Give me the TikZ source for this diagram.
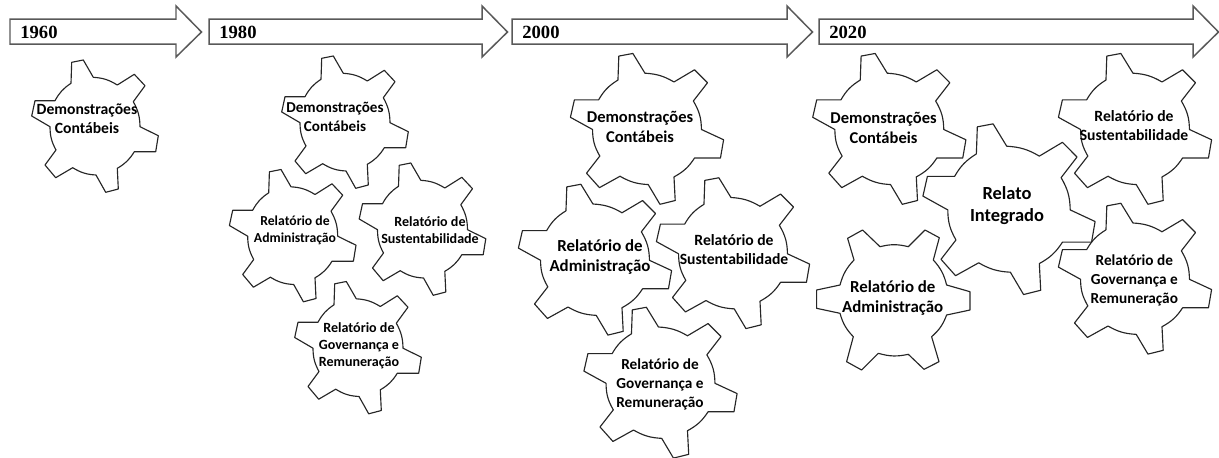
\documentclass[tikz,border=0pt]{standalone}
\usepackage{fontspec}
\setmainfont{Carlito}
\newfontfamily\fonteano{Liberation Serif}

\tikzset{
    contorno/.style={draw=black!85, line width=0.65pt, line join=round},
    seta/.style={draw=black!65, line width=0.85pt},
    ano/.style={font=\fonteano\bfseries\fontsize{10.6}{12}\selectfont, inner sep=0pt},
    rotulo/.style 2 args={font=\bfseries\fontsize{#1}{#2}\selectfont, align=center, inner sep=0pt},
    % engrenagem com um dente no alto
    engrenagem/.pic={
        \draw[contorno] (-24,-42.7) -- (-23.3,-63.7) -- (-11.7,-66) -- (-1.7,-48.7)
            to[bend left=14] (22.3,-41) -- (39.3,-51.7) -- (50,-40.3) -- (38.3,-24.3)
            to[bend left=14] (45,0.7) -- (63.3,9.7) -- (60.7,25.7) -- (39.3,25.7)
            to[bend left=14] (22.3,42.3) -- (23.3,63) -- (10.7,66.3) -- (1,49)
            to[bend left=14] (-22.3,41.7) -- (-39.3,51.7) -- (-50,39) -- (-39,24)
            to[bend left=14] (-45,0.7) -- (-63.3,-10) -- (-60,-25.3) -- (-40,-25.3)
            to[bend left=14] cycle;
    },
    % engrenagem com dentes nos lados
    engrenagemB/.pic={
        \draw[contorno] (-45.7,-61.7) -- (-30.7,-70) -- (-13.3,-53.3)
            to[bend left=14] (15,-53.3) -- (31.7,-70) -- (46,-62.3) -- (40,-40)
            to[bend left=14] (53.3,-15) -- (76.7,-8.3) -- (76.7,10) -- (53.3,15)
            to[bend left=14] (38.3,36.7) -- (45.7,61.7) -- (30.7,69.3) -- (15,54.3)
            to[bend left=14] (-15,53.3) -- (-31.7,70) -- (-46.7,61.7) -- (-40,36.7)
            to[bend left=14] (-53.3,13.3) -- (-76.7,8.3) -- (-76.7,-10) -- (-53.3,-15)
            to[bend left=14] (-39.3,-40) -- cycle;
    }
}

\begin{document}
\begin{tikzpicture}[x=0.02cm, y=-0.02cm]
    \useasboundingbox (0,0) rectangle (1219,457);

    % --- Setas dos anos ---
    \foreach \anotxt/\xa/\xb in {1960/10/176, 1980/209/482, 2000/512/787, 2020/819/1193} {
        \draw[seta] (\xa,19) -- (\xb,19) -- (\xb,6) -- (\xb+25.5,32) -- (\xb,57) -- (\xb,44) -- (\xa,44) -- cycle;
        \node[ano, right] (ano\anotxt) at (\xa+10,32) {\anotxt};
    }

    % --- 1960 ---
    \pic at (95,126) {engrenagem};
    \node[rotulo={8.9}{11}] (dem60) at (87,119) {Demonstrações\\Contábeis};

    % --- 1980 ---
    \pic at (345,122) {engrenagem};
    \node[rotulo={8.6}{11}] (dem80) at (335,117) {Demonstrações\\Contábeis};
    \pic at (292.7,235.5) {engrenagem};
    \node[rotulo={7.8}{9.8}] (adm80) at (295,230) {Relatório de\\Administração};
    \pic at (422.5,229) {engrenagem};
    \node[rotulo={8}{9.8}] (sus80) at (430,230.5) {Relatório de\\Sustentabilidade};
    \pic at (358,347.5) {engrenagem};
    \node[rotulo={8}{9.8}] (gov80) at (359,346) {Relatório de\\Governança e\\Remuneração};

    % --- 2000 ---
    \pic[xscale=1.21, yscale=1.14] at (647,128.7) {engrenagem};
    \node[rotulo={9.4}{11.4}] (dem00) at (640,127) {Demonstrações\\Contábeis};
    \pic[xscale=1.21, yscale=1.14] at (595,259.5) {engrenagem};
    \node[rotulo={9.6}{11.4}] (adm00) at (600,256.7) {Relatório de\\Administração};
    \pic[xscale=1.21, yscale=1.14] at (733,253) {engrenagem};
    \node[rotulo={8.9}{10.9}] (sus00) at (734,249.7) {Relatório de\\Sustentabilidade};
    \pic[xscale=1.21, yscale=1.14] at (660.5,382.5) {engrenagem};
    \node[rotulo={8.7}{10.8}] (gov00) at (660,384) {Relatório de\\Governança e\\Remuneração};

    % --- 2020 ---
    \pic[xscale=1.21, yscale=1.14] at (889.3,128.7) {engrenagem};
    \node[rotulo={9.4}{11.4}] (dem20) at (883.5,128) {Demonstrações\\Contábeis};
    \pic[xscale=1.36, yscale=1.29] at (1009,209) {engrenagem};
    \node[rotulo={10.5}{12.6}] (rel20) at (1007,206) {Relato\\Integrado};
    \pic[xscale=1.21, yscale=1.14] at (1135,128.7) {engrenagem};
    \node[rotulo={8.9}{10.9}] (sus20) at (1134,125.7) {Relatório de\\Sustentabilidade};
    \pic[xscale=1.21, yscale=1.14] at (1135,278.5) {engrenagem};
    \node[rotulo={8.7}{10.8}] (gov20) at (1134.3,280) {Relatório de\\Governança e\\Remuneração};
    \pic at (893.3,300) {engrenagemB};
    \node[rotulo={9.6}{11.4}] (adm20) at (892.7,298) {Relatório de\\Administração};
\end{tikzpicture}
\end{document}
